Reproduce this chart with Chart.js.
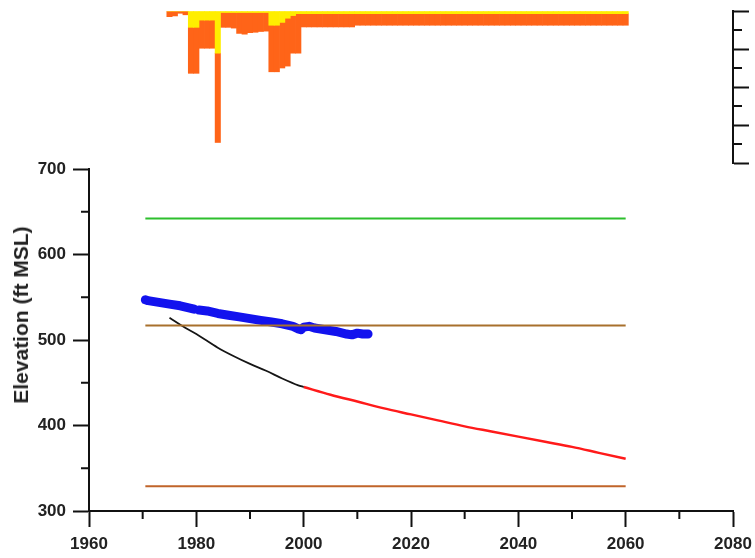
<!DOCTYPE html>
<html>
<head>
<meta charset="utf-8">
<script src="https://cdn.jsdelivr.net/npm/chart.js@4.4.1/dist/chart.umd.min.js"></script>
<style>
html, body { margin: 0; padding: 0; background: #fff; }
#wrap { position: relative; width: 755px; height: 558px; overflow: hidden; }
#wrap canvas { position: absolute; left: 0; top: 0; }
#ytitle {
    position: absolute; left: 21px; top: 315px;
    transform: translate(-50%, -50%) rotate(-90deg);
    font: bold 21px "Liberation Sans", Arial, sans-serif;
    color: #222; white-space: nowrap;
}
</style>
</head>
<body>
<div id="wrap">
    <canvas id="elev" width="755" height="558"></canvas>
    <canvas id="bars" width="755" height="170"></canvas>
    <div id="ytitle">Elevation (ft MSL)</div>
</div>
<script>
"use strict";

// ---- reference levels (ft MSL) ----
var levelYears =  [1970.5, 2060];
var greenLevel =  [642, 642];
var brownUpper =  [517, 517];
var brownLower =  [329, 329];

// ---- measured water levels (blue dots) ----
var obsYears = [1970.5, 1971, 1973, 1975, 1977, 1979, 1979.6, 1979.9, 1980.5, 1982, 1984, 1986, 1988, 1990, 1992,
                1994, 1996, 1998, 1999, 1999.5, 2000, 2001, 2002, 2004, 2006, 2008, 2009, 2010, 2011, 2012];
var obsElev =  [547, 546, 544, 542, 540, 537, 536, null, 535, 534, 531, 529, 527, 525, 523,
                521, 519, 516, 513, 512, 515, 516, 514, 512, 510, 507, 506, 508, 507, 507];

// ---- simulated historical (black) ----
var histYears = [1975, 1978, 1980, 1984, 1987, 1990, 1993, 1996, 1999, 2000];
var histElev =  [526, 514, 507, 491, 481, 472, 464, 455, 447, 445];

// ---- projection (red) ----
var projYears = [2000, 2005, 2010, 2015, 2020, 2025, 2030, 2035, 2040, 2045, 2050, 2055, 2060];
var projElev =  [445, 436, 428, 420, 413, 406, 399, 393, 387, 381, 375, 368, 361];

// ---- top panel bars (hanging from the top) ----
var barYears = [1975, 1976, 1977, 1978, 1979, 1980, 1981, 1982, 1983, 1984, 1985, 1986, 1987, 1988,
                1989, 1990, 1991, 1992, 1993, 1994, 1995, 1996, 1997, 1998, 1999, 2000, 2001, 2002, 2003,
                2004, 2005, 2006, 2007, 2008, 2009, 2010, 2011, 2012, 2013, 2014, 2015, 2016, 2017, 2018,
                2019, 2020, 2021, 2022, 2023, 2024, 2025, 2026, 2027, 2028, 2029, 2030, 2031, 2032, 2033,
                2034, 2035, 2036, 2037, 2038, 2039, 2040, 2041, 2042, 2043, 2044, 2045, 2046, 2047, 2048,
                2049, 2050, 2051, 2052, 2053, 2054, 2055, 2056, 2057, 2058, 2059, 2060];
var yellowVals = [0, 0, 0, 0, 4.3, 4.3, 2.4, 2.4, 2.4, 11.1, 0.4, 0.4, 0.4, 0.4,
                  0.4, 0.4, 0.4, 0.4, 0.4, 3.75, 3.75, 3.0, 1.9, 1.2, 0.7, 0.7, 0.7, 0.7, 0.7,
                  0.7, 0.7, 0.7, 0.7, 0.7, 0.7, 0.7, 0.7, 0.7, 0.7, 0.7, 0.7, 0.7, 0.7, 0.7,
                  0.7, 0.7, 0.7, 0.7, 0.7, 0.7, 0.7, 0.7, 0.7, 0.7, 0.7, 0.7, 0.7, 0.7, 0.7,
                  0.7, 0.7, 0.7, 0.7, 0.7, 0.7, 0.7, 0.7, 0.7, 0.7, 0.7, 0.7, 0.7, 0.7, 0.7,
                  0.7, 0.7, 0.7, 0.7, 0.7, 0.7, 0.7, 0.7, 0.7, 0.7, 0.7, 0.7];
var orangeVals = [1.5, 1.3, 0.6, 1.0, 12.1, 12.1, 7.4, 7.4, 7.4, 23.5, 3.9, 3.9, 4.1, 5.5,
                  5.7, 5.3, 5.2, 5.0, 4.9, 12.25, 12.25, 12.0, 12.6, 9.9, 10.4, 3.5, 3.5, 3.5, 3.5,
                  3.5, 3.5, 3.5, 3.5, 3.5, 3.5, 3.05, 3.05, 3.05, 3.05, 3.05, 3.05, 3.05, 3.05, 3.05,
                  3.05, 3.05, 3.05, 3.05, 3.05, 3.05, 3.05, 3.05, 3.05, 3.05, 3.05, 3.05, 3.05, 3.05, 3.05,
                  3.05, 3.05, 3.05, 3.05, 3.05, 3.05, 3.05, 3.05, 3.05, 3.05, 3.05, 3.05, 3.05, 3.05, 3.05,
                  3.05, 3.05, 3.05, 3.05, 3.05, 3.05, 3.05, 3.05, 3.05, 3.05, 3.05, 3.05];

var xTicks = [1960, 1980, 2000, 2020, 2040, 2060, 2080];
var xMinor = [1970, 1990, 2010, 2030, 2050, 2070];
var yTicks = [300, 400, 500, 600, 700];
var yMinor = [350, 450, 550, 650];
var barTicks = [0, 10, 20, 30, 40];
var barMinor = [5, 15, 25, 35];

function pts(xs, ys) {
    return xs.map(function(x, i) { return { x: x, y: ys[i] }; });
}

var AXIS = "#111";
var FONT = { family: "'Liberation Sans', Arial, sans-serif", size: 17, weight: "bold" };

// short ticks between the major ones, placed through the scale
var minorTicks = {
    id: "minorTicks",
    afterDraw: function(chart, args, opts) {
        var ctx = chart.ctx;
        (opts.sets || []).forEach(function(set) {
            var scale = chart.scales[set.axis];
            ctx.save();
            ctx.strokeStyle = AXIS;
            ctx.lineWidth = 2;
            ctx.beginPath();
            set.values.forEach(function(v) {
                var p = scale.getPixelForValue(v);
                if (scale.isHorizontal()) {
                    ctx.moveTo(p, scale.top); ctx.lineTo(p, scale.top + set.length);
                } else if (scale.position === "left") {
                    ctx.moveTo(scale.right, p); ctx.lineTo(scale.right - set.length, p);
                } else {
                    ctx.moveTo(scale.left, p); ctx.lineTo(scale.left + set.length, p);
                }
            });
            ctx.stroke();
            ctx.restore();
        });
    }
};

function lineSet(xs, ys, color, width) {
    return {
        data: pts(xs, ys),
        borderColor: color,
        backgroundColor: color,
        borderWidth: width,
        pointRadius: 0,
        fill: false,
        spanGaps: false
    };
}

var blue = lineSet(obsYears, obsElev, "#1212ee", 9);
blue.borderCapStyle = "round";
blue.borderJoinStyle = "round";

var hist = lineSet(histYears, histElev, "#151515", 1.8);
hist.cubicInterpolationMode = "monotone";
var proj = lineSet(projYears, projElev, "#ff1a1a", 2.5);
proj.cubicInterpolationMode = "monotone";

new Chart(document.getElementById("elev"), {
    type: "line",
    data: {
        datasets: [
            lineSet(levelYears, greenLevel, "#2dbf2d", 2),
            lineSet(levelYears, brownUpper, "#a8702c", 2),
            lineSet(levelYears, brownLower, "#c0642a", 2),
            hist,
            proj,
            blue
        ]
    },
    plugins: [minorTicks],
    options: {
        responsive: false,
        animation: false,
        layout: { padding: { top: 169, right: 22, bottom: 0, left: 0 } },
        plugins: {
            legend: { display: false },
            tooltip: { enabled: false },
            minorTicks: { sets: [
                { axis: "x", values: xMinor, length: 8 },
                { axis: "y", values: yMinor, length: 8 }
            ] }
        },
        scales: {
            x: {
                type: "linear", min: 1960, max: 2080,
                afterBuildTicks: function(s) { s.ticks = xTicks.map(function(v) { return { value: v }; }); },
                afterFit: function(s) { s.height = 47; s.paddingLeft = 0; s.paddingRight = 0; },
                ticks: { font: FONT, color: "#222", padding: 7, maxRotation: 0,
                         callback: function(v) { return String(v); } },
                grid: { drawOnChartArea: false, tickLength: 16, tickWidth: 2, tickColor: AXIS },
                border: { color: AXIS, width: 2 }
            },
            y: {
                type: "linear", min: 300, max: 700,
                afterBuildTicks: function(s) { s.ticks = yTicks.map(function(v) { return { value: v }; }); },
                afterFit: function(s) { s.width = 89; s.paddingTop = 0; s.paddingBottom = 0; },
                ticks: { font: FONT, color: "#222", padding: 7,
                         callback: function(v) { return String(v); } },
                grid: { drawOnChartArea: false, tickLength: 16, tickWidth: 2, tickColor: AXIS },
                border: { color: AXIS, width: 2 }
            }
        }
    }
});

new Chart(document.getElementById("bars"), {
    type: "bar",
    data: {
        datasets: [
            { data: pts(barYears, yellowVals), backgroundColor: "#ffee00", borderWidth: 0,
              barPercentage: 1, categoryPercentage: 1 },
            { data: pts(barYears, orangeVals), backgroundColor: "#ff6418", borderWidth: 0,
              barPercentage: 1, categoryPercentage: 1 }
        ]
    },
    plugins: [minorTicks],
    options: {
        responsive: false,
        animation: false,
        layout: { padding: { top: 11, right: 0, bottom: 7, left: 89 } },
        plugins: {
            legend: { display: false },
            tooltip: { enabled: false },
            minorTicks: { sets: [ { axis: "y", values: barMinor, length: 9 } ] }
        },
        scales: {
            x: { type: "linear", min: 1960, max: 2080, display: false, stacked: true, offset: false },
            y: {
                type: "linear", position: "right", reverse: true, min: 0, max: 40, stacked: true,
                afterBuildTicks: function(s) { s.ticks = barTicks.map(function(v) { return { value: v }; }); },
                afterFit: function(s) { s.width = 22; },
                ticks: { display: false },
                grid: { drawOnChartArea: false, tickLength: 16, tickWidth: 2, tickColor: AXIS },
                border: { color: AXIS, width: 2 }
            }
        }
    }
});
</script>
</body>
</html>
